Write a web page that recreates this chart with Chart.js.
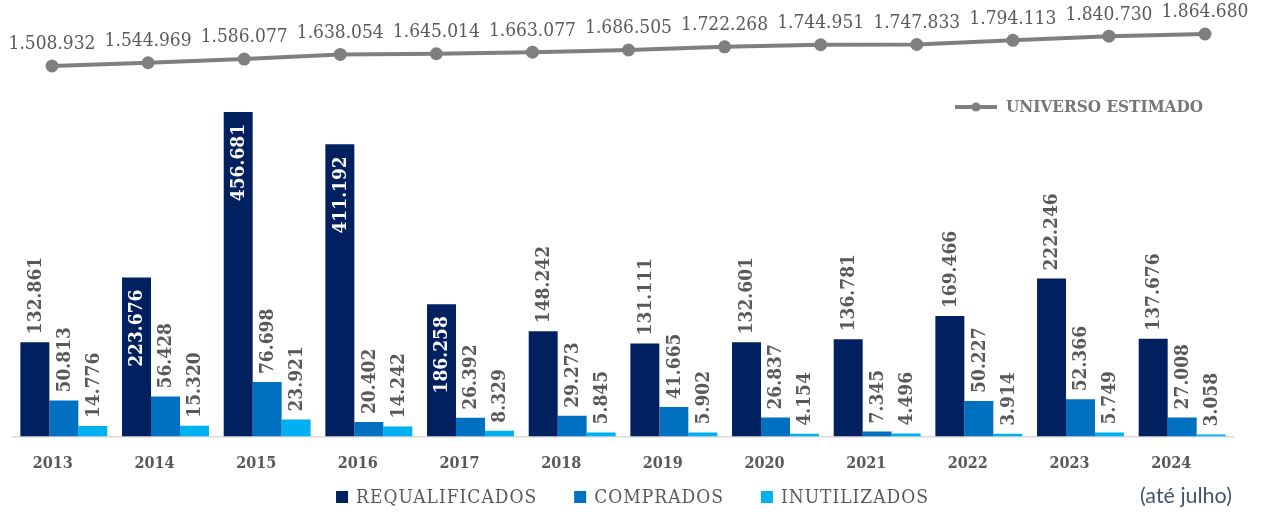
<!DOCTYPE html>
<html>
<head>
<meta charset="utf-8">
<script src="https://cdn.jsdelivr.net/npm/chart.js@4/dist/chart.umd.min.js"></script>
<style>
  html, body { margin: 0; padding: 0; background: #ffffff; }
  #wrap { position: relative; width: 1261px; height: 512px; }
  #wrap canvas { position: absolute; left: 0; top: 0; }
  #note { position: absolute; left: 1140px; top: 482px; font-family: Lato, "Noto Sans", sans-serif; font-size: 21.5px; color: #44546A; }
</style>
</head>
<body>
<div id="wrap">
  <canvas id="bars" width="1261" height="512"></canvas>
  <canvas id="line" width="1261" height="512"></canvas>
  <div id="note">(até julho)</div>
</div>
<script>
const years = ['2013','2014','2015','2016','2017','2018','2019','2020','2021','2022','2023','2024'];
const requalificados = [132861, 223676, 456681, 411192, 186258, 148242, 131111, 132601, 136781, 169466, 222246, 137676];
const comprados = [50813, 56428, 76698, 20402, 26392, 29273, 41665, 26837, 7345, 50227, 52366, 27008];
const inutilizados = [14776, 15320, 23921, 14242, 8329, 5845, 5902, 4154, 4496, 3914, 5749, 3058];
const universoEstimado = [1508932, 1544969, 1586077, 1638054, 1645014, 1663077, 1686505, 1722268, 1744951, 1747833, 1794113, 1840730, 1864680];
const seriesNames = ['REQUALIFICADOS', 'COMPRADOS', 'INUTILIZADOS'];
const seriesColors = ['#002060', '#0070C0', '#00B0F0'];
const lineName = 'UNIVERSO ESTIMADO';
// requalificados labels drawn inside the bar for these categories
const insideIdx = [1, 2, 3, 4];

const fmt = n => String(n).replace(/\B(?=(\d{3})+(?!\d))/g, '.');
const SERIF = '"DejaVu Serif Condensed", "DejaVu Serif", serif';
const GREY = '#595959';

const barPlugin = {
  id: 'barLabels',
  afterDatasetsDraw(chart) {
    const ctx = chart.ctx;
    ctx.save();
    ctx.letterSpacing = '0px';
    for (let d = 0; d < 3; d++) {
      const meta = chart.getDatasetMeta(d);
      meta.data.forEach((el, i) => {
        const v = chart.data.datasets[d].data[i];
        const inside = d === 0 && insideIdx.includes(i);
        ctx.save();
        ctx.translate(el.x, inside ? el.y + 12 : el.y - 8);
        ctx.rotate(-Math.PI / 2);
        ctx.font = 'bold 19px ' + SERIF;
        ctx.fillStyle = inside ? '#ffffff' : GREY;
        ctx.textAlign = inside ? 'right' : 'left';
        ctx.textBaseline = 'middle';
        ctx.fillText(fmt(v), 0, 1);
        ctx.restore();
      });
    }
    ctx.restore();
    // x axis (z=1) is drawn after this: letter-spaced year labels
    ctx.letterSpacing = '1.5px';
  },
  afterDraw(chart) {
    const ctx = chart.ctx;
    ctx.letterSpacing = '0px';
    // bottom legend
    ctx.save();
    ctx.font = '19px ' + SERIF;
    ctx.letterSpacing = '1px';
    const box = 12, gapText = 8, gapItem = 37;
    const widths = seriesNames.map(s => ctx.measureText(s).width);
    const total = widths.reduce((a, w) => a + box + gapText + w, 0) + gapItem * (seriesNames.length - 1);
    let x = chart.width / 2 - total / 2 + 2;
    const y = 497;
    ctx.textBaseline = 'middle';
    ctx.textAlign = 'left';
    seriesNames.forEach((s, i) => {
      ctx.fillStyle = seriesColors[i];
      ctx.fillRect(x, y - box / 2, box, box);
      ctx.fillStyle = GREY;
      ctx.fillText(s, x + box + gapText, y + 1);
      x += box + gapText + widths[i] + gapItem;
    });
    ctx.restore();
  }
};

new Chart(document.getElementById('bars'), {
  type: 'bar',
  data: {
    labels: years,
    datasets: seriesNames.map((name, d) => ({
      label: name,
      data: [requalificados, comprados, inutilizados][d],
      backgroundColor: seriesColors[d],
      borderWidth: 0
    }))
  },
  options: {
    responsive: false,
    animation: false,
    events: [],
    categoryPercentage: 0.855,
    barPercentage: 1.0,
    layout: { padding: { left: 13, right: 28, top: 10, bottom: 21.4 } },
    plugins: { legend: { display: false }, tooltip: { enabled: false } },
    scales: {
      x: {
        z: 1,
        grid: { display: false, drawTicks: false },
        border: { display: true, color: '#d9d9d9', width: 1.5 },
        ticks: { color: GREY, font: { family: SERIF, size: 16, weight: 'bold', lineHeight: 1.2 }, padding: 17.4, labelOffset: -11, autoSkip: false, maxRotation: 0 }
      },
      y: { display: false, min: 0, max: 600000 }
    }
  },
  plugins: [barPlugin]
});

const linePlugin = {
  id: 'lineLabels',
  afterDatasetsDraw(chart) {
    const ctx = chart.ctx;
    ctx.save();
    ctx.font = '19px ' + SERIF;
    ctx.fillStyle = GREY;
    ctx.textAlign = 'center';
    ctx.textBaseline = 'bottom';
    chart.getDatasetMeta(0).data.forEach((el, i) => {
      ctx.fillText(fmt(universoEstimado[i]), el.x, el.y - 12);
    });
    // series legend (top right)
    const lx = 955, ly = 107;
    ctx.strokeStyle = '#7f7f7f';
    ctx.lineWidth = 4;
    ctx.beginPath(); ctx.moveTo(lx, ly); ctx.lineTo(lx + 42, ly); ctx.stroke();
    ctx.fillStyle = '#7f7f7f';
    ctx.beginPath(); ctx.arc(lx + 21, ly, 4.5, 0, Math.PI * 2); ctx.fill();
    ctx.font = 'bold 17px ' + SERIF;
    ctx.fillStyle = '#767676';
    ctx.textAlign = 'left';
    ctx.textBaseline = 'middle';
    ctx.fillText(lineName, lx + 51, ly + 1);
    ctx.restore();
  }
};

new Chart(document.getElementById('line'), {
  type: 'line',
  data: {
    datasets: [{
      label: lineName,
      data: universoEstimado.map((v, i) => ({ x: i, y: v })),
      borderColor: '#7f7f7f', backgroundColor: '#7f7f7f',
      borderWidth: 4, pointRadius: 4.5, pointHoverRadius: 4.5, tension: 0, clip: false
    }]
  },
  options: {
    responsive: false,
    animation: false,
    events: [],
    layout: { padding: { left: 52, right: 56, top: 10, bottom: 75 } },
    plugins: { legend: { display: false }, tooltip: { enabled: false } },
    scales: {
      x: { type: 'linear', display: false, min: 0, max: 12, offset: false },
      y: { display: false, min: -2613290, max: 2131154 }
    }
  },
  plugins: [linePlugin]
});
</script>
</body>
</html>
